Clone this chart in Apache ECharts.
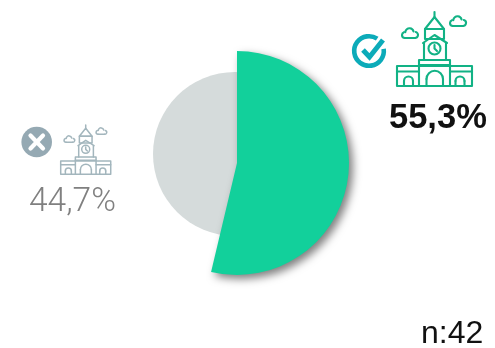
<!DOCTYPE html>
<html><head><meta charset="utf-8">
<style>html,body{margin:0;padding:0;background:#fff}#c{width:495px;height:348px}</style>
<script src="https://cdn.jsdelivr.net/npm/echarts@6/dist/echarts.min.js"></script>
</head><body><div id="c"></div>
<script>
const categories = ['Sí', 'No'];
const values = [55.3, 44.7];
const sampleLabel = 'n:42';
const fmt = v => v.toFixed(1).replace('.', ',') + '%';

function building(color, x, y, s, lw) {
  const st = {stroke: color, fill: 'none', lineWidth: lw / s, lineJoin: 'round', lineCap: 'round'};
  const poly = (points, closed) => ({type: closed ? 'polygon' : 'polyline', shape: {points}, style: st});
  const rect = (a, b, c, d) => ({type: 'rect', shape: {x: a, y: b, width: c - a, height: d - b}, style: st});
  const deg = Math.PI / 180;
  const arc = (cx, cy, r, a0, a1) => ({type: 'arc', shape: {cx, cy, r, startAngle: a0 * deg, endAngle: a1 * deg, clockwise: true}, style: st});
  const arch = (a, c, base, spring) => {
    const r = (c - a) / 2, m = (a + c) / 2;
    return [poly([[a, base], [a, spring]]), poly([[c, base], [c, spring]]), arc(m, spring, r, 180, 360)];
  };
  const cloud = (cx, cy) => [
    poly([[cx - 5, cy + 4], [cx + 5, cy + 4]]),
    arc(cx - 5, cy + 1, 3, 90, 250),
    arc(cx - 0.5, cy - 1.5, 4.2, 185, 345),
    arc(cx + 5, cy + 1, 3, 285, 90)
  ];
  return {type: 'group', x: x - 397 * s, y: y - 12 * s, scaleX: s, scaleY: s, children: [
    poly([[434.5, 12], [434.5, 18]]),
    poly([[425, 29], [434.5, 17], [444, 29]], true),
    rect(425, 29, 444, 39),
    poly([[423, 43], [434.5, 35], [447, 43]]),
    poly([[424, 43], [424, 60]]), poly([[446, 43], [446, 60]]),
    {type: 'circle', shape: {cx: 434.5, cy: 48.5, r: 6}, style: st},
    poly([[434.5, 45], [434.5, 48.5], [437, 51]]),
    rect(419, 60, 450, 65),
    rect(397, 66, 472, 86),
    poly([[397, 71.5], [419, 71.5]]), poly([[450, 71.5], [472, 71.5]]),
    poly([[419, 65], [419, 86]]), poly([[450, 65], [450, 86]]),
    ...arch(426.5, 443, 86, 79),
    ...arch(404, 413, 86, 81), ...arch(455.5, 464.5, 86, 81),
    ...cloud(410, 34), ...cloud(458, 22)
  ]};
}

const green = '#12d09b';
const chart = echarts.init(document.getElementById('c'), null, {renderer: 'canvas'});
chart.setOption({
  animation: false,
  backgroundColor: '#fff',
  series: [
    {
      type: 'pie', silent: true, center: [235, 154], radius: [0, 82],
      label: {show: false}, labelLine: {show: false},
      data: [{name: categories[1], value: values[1], itemStyle: {color: '#d5dbdb'}}]
    },
    {
      type: 'pie', silent: true, center: [237, 163], radius: [0, 112],
      startAngle: 90, endAngle: -259.7, label: {show: false}, labelLine: {show: false},
      data: [
        {name: categories[0], value: values[0], itemStyle: {
          color: green, shadowColor: 'rgba(0,0,0,0.5)', shadowBlur: 9, shadowOffsetX: 4, shadowOffsetY: 4}},
        {name: categories[1], value: values[1], itemStyle: {color: 'rgba(0,0,0,0)'}}
      ]
    }
  ],
  graphic: [
    building('#12b285', 397, 12, 1, 2.1),
    building('#a3b6bd', 60.7, 125, 0.667, 1.5),
    {type: 'arc', shape: {cx: 369, cy: 51, r: 14.8, startAngle: -0.15, endAngle: 5.3, clockwise: true},
      style: {stroke: '#0cabb9', fill: 'none', lineWidth: 4.6}},
    {type: 'polyline', shape: {points: [[363, 50], [369.5, 57], [383, 40]]},
      style: {stroke: '#0cabb9', fill: 'none', lineWidth: 5}},
    {type: 'circle', shape: {cx: 36.7, cy: 142, r: 15.3}, style: {fill: '#95a9b3'}},
    {type: 'polyline', shape: {points: [[30.5, 135.5], [43, 148.5]]}, style: {stroke: '#fff', lineWidth: 4.2, lineCap: 'round'}},
    {type: 'polyline', shape: {points: [[43, 135.5], [30.5, 148.5]]}, style: {stroke: '#fff', lineWidth: 4.2, lineCap: 'round'}},
    {type: 'text', x: 389, y: 101, style: {text: fmt(values[0]), fill: '#111',
      font: 'bold 34.5px "Liberation Sans"'}},
    {type: 'text', x: 29, y: 186, style: {text: fmt(values[1]), fill: '#808080',
      font: '300 33.5px Roboto'}},
    {type: 'text', x: 421, y: 318, style: {text: sampleLabel, fill: '#111',
      font: '32px "Liberation Sans"'}}
  ]
});
</script></body></html>
